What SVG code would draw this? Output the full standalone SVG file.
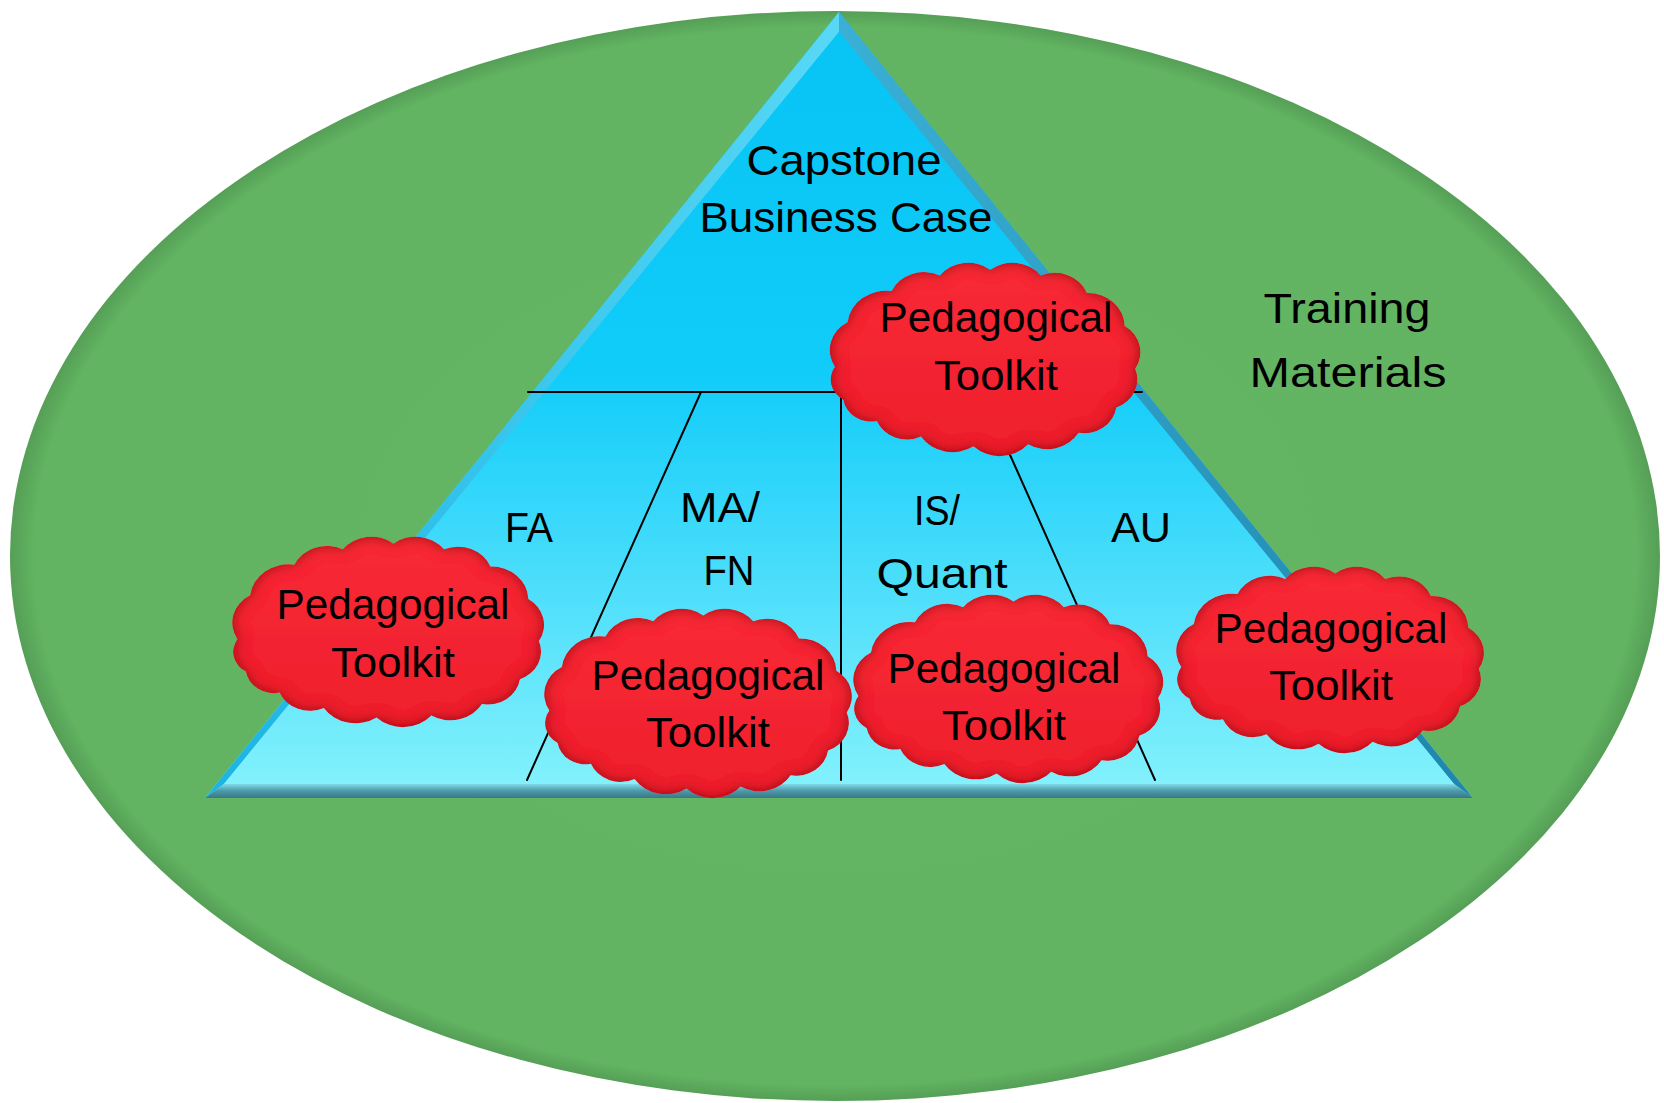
<svg xmlns="http://www.w3.org/2000/svg" xmlns:xlink="http://www.w3.org/1999/xlink" width="1664" height="1103" viewBox="0 0 1664 1103">
  <style>
    .lbl { font-family: "Liberation Sans", Arial, sans-serif; font-size: 43px; fill: #000; text-anchor: middle; }
    .div { stroke: #000; stroke-width: 2; fill: none; stroke-linecap: round; }
  </style>
  <defs>
    <radialGradient id="gEll" cx="0.5" cy="0.5" r="0.5">
      <stop offset="0" stop-color="#64B664"/>
      <stop offset="0.97" stop-color="#62B462"/>
      <stop offset="1" stop-color="#559F56"/>
    </radialGradient>
    <linearGradient id="gTri" x1="0" y1="0" x2="0" y2="1">
      <stop offset="0" stop-color="#07C4F5"/>
      <stop offset="0.45" stop-color="#10CCF9"/>
      <stop offset="0.75" stop-color="#4FDFFB"/>
      <stop offset="1" stop-color="#82F1FC"/>
    </linearGradient>
    <linearGradient id="gBase" x1="0" y1="0" x2="0" y2="1">
      <stop offset="0" stop-color="#7FD9E6"/>
      <stop offset="0.5" stop-color="#4C98A8"/>
      <stop offset="1" stop-color="#3A7888"/>
    </linearGradient>
    <linearGradient id="gRight" x1="0" y1="0" x2="1" y2="0">
      <stop offset="0" stop-color="#3AB0D6"/>
      <stop offset="1" stop-color="#1F85AC"/>
    </linearGradient>
    <linearGradient id="gLeft" x1="0" y1="0" x2="1" y2="0">
      <stop offset="0" stop-color="#1CB3E3"/>
      <stop offset="1" stop-color="#58D8F6"/>
    </linearGradient>
    <linearGradient id="gCloud" x1="0" y1="0" x2="0" y2="1">
      <stop offset="0" stop-color="#F92A36"/>
      <stop offset="1" stop-color="#EE1F2C"/>
    </linearGradient>
    <filter id="puff" x="-5%" y="-5%" width="110%" height="115%">
      <feGaussianBlur in="SourceAlpha" stdDeviation="7" result="blur"/>
      <feComposite in="SourceAlpha" in2="blur" operator="arithmetic" k2="1" k3="-1" result="rim"/>
      <feFlood flood-color="#7A000C" flood-opacity="0.9"/>
      <feComposite in2="rim" operator="in" result="rimc"/>
      <feMerge><feMergeNode in="SourceGraphic"/><feMergeNode in="rimc"/></feMerge>
    </filter>
    <path id="cloud" d="M8,108 A33,33 0 0 1 20,62 A37,37 0 0 1 62,30 A34,34 0 0 1 108,14 A34,34 0 0 1 156,8 A34,34 0 0 1 204,14 A33,33 0 0 1 248,32 A35,35 0 0 1 284,66 A32,32 0 0 1 294,110 A31,31 0 0 1 276,150 A31,31 0 0 1 240,176 A35,35 0 0 1 192,188 A36,36 0 0 1 140,190 A36,36 0 0 1 90,180 A31,31 0 0 1 48,164 A27,27 0 0 1 16,142 A24,24 0 0 1 8,108 Z"/>
  </defs>

  <rect width="1664" height="1103" fill="#FFFFFF"/>

  <g id="training-materials">
    <ellipse cx="835" cy="556" rx="825" ry="545" fill="url(#gEll)"/>
    <text class="lbl" x="1347" y="323" textLength="167" lengthAdjust="spacingAndGlyphs">Training</text>
    <text class="lbl" x="1348" y="387" textLength="197" lengthAdjust="spacingAndGlyphs">Materials</text>
  </g>

  <g id="pyramid">
    <polygon points="839,12 205,798 1473,798" fill="url(#gTri)"/>
    <polygon points="839,12 205,798 224,784 839,32" fill="url(#gLeft)"/>
    <polygon points="839,12 1473,798 1454,784 839,32" fill="url(#gRight)"/>
    <polygon points="224,784 1454,784 1473,798 205,798" fill="url(#gBase)"/>
    <polygon points="839,32 224,784 1454,784" fill="url(#gTri)"/>
  </g>

  <g id="connectors">
    <line class="div" x1="528" y1="392" x2="1142" y2="392"/>
    <line class="div" x1="701" y1="392" x2="527" y2="780"/>
    <line class="div" x1="841" y1="392" x2="841" y2="780"/>
    <line class="div" x1="982" y1="392" x2="1155" y2="780"/>
  </g>

  <g id="capstone">
    <text class="lbl" x="844" y="175" textLength="195" lengthAdjust="spacingAndGlyphs">Capstone</text>
    <text class="lbl" x="846" y="232" textLength="293" lengthAdjust="spacingAndGlyphs">Business Case</text>
  </g>
  <g id="fa"><text class="lbl" x="529" y="542" textLength="48" lengthAdjust="spacingAndGlyphs">FA</text></g>
  <g id="ma-fn">
    <text class="lbl" x="720" y="522" textLength="80" lengthAdjust="spacingAndGlyphs">MA/</text>
    <text class="lbl" x="729" y="585" textLength="51" lengthAdjust="spacingAndGlyphs">FN</text>
  </g>
  <g id="is-quant">
    <text class="lbl" x="937" y="525" textLength="46" lengthAdjust="spacingAndGlyphs">IS/</text>
    <text class="lbl" x="942" y="588" textLength="131" lengthAdjust="spacingAndGlyphs">Quant</text>
  </g>
  <g id="au"><text class="lbl" x="1141" y="542" textLength="60" lengthAdjust="spacingAndGlyphs">AU</text></g>

  <g id="toolkit-capstone">
    <use xlink:href="#cloud" href="#cloud" fill="url(#gCloud)" filter="url(#puff)" transform="translate(826.5,262) scale(1.05,0.97)"/>
    <text class="lbl" x="996" y="332" textLength="233" lengthAdjust="spacingAndGlyphs">Pedagogical</text>
    <text class="lbl" x="996" y="390" textLength="124" lengthAdjust="spacingAndGlyphs">Toolkit</text>
  </g>
  <g id="toolkit-fa">
    <use xlink:href="#cloud" href="#cloud" fill="url(#gCloud)" filter="url(#puff)" transform="translate(229,536) scale(1.054,0.955)"/>
    <text class="lbl" x="393" y="619" textLength="233" lengthAdjust="spacingAndGlyphs">Pedagogical</text>
    <text class="lbl" x="393" y="677" textLength="124" lengthAdjust="spacingAndGlyphs">Toolkit</text>
  </g>
  <g id="toolkit-ma-fn">
    <use xlink:href="#cloud" href="#cloud" fill="url(#gCloud)" filter="url(#puff)" transform="translate(541,608) scale(1.04,0.95)"/>
    <text class="lbl" x="708" y="690" textLength="233" lengthAdjust="spacingAndGlyphs">Pedagogical</text>
    <text class="lbl" x="708" y="747" textLength="124" lengthAdjust="spacingAndGlyphs">Toolkit</text>
  </g>
  <g id="toolkit-is-quant">
    <use xlink:href="#cloud" href="#cloud" fill="url(#gCloud)" filter="url(#puff)" transform="translate(850,594) scale(1.048,0.945)"/>
    <text class="lbl" x="1004" y="683" textLength="233" lengthAdjust="spacingAndGlyphs">Pedagogical</text>
    <text class="lbl" x="1004" y="740" textLength="124" lengthAdjust="spacingAndGlyphs">Toolkit</text>
  </g>
  <g id="toolkit-au">
    <use xlink:href="#cloud" href="#cloud" fill="url(#gCloud)" filter="url(#puff)" transform="translate(1173,566) scale(1.04,0.935)"/>
    <text class="lbl" x="1331" y="643" textLength="233" lengthAdjust="spacingAndGlyphs">Pedagogical</text>
    <text class="lbl" x="1331" y="700" textLength="124" lengthAdjust="spacingAndGlyphs">Toolkit</text>
  </g>
</svg>
